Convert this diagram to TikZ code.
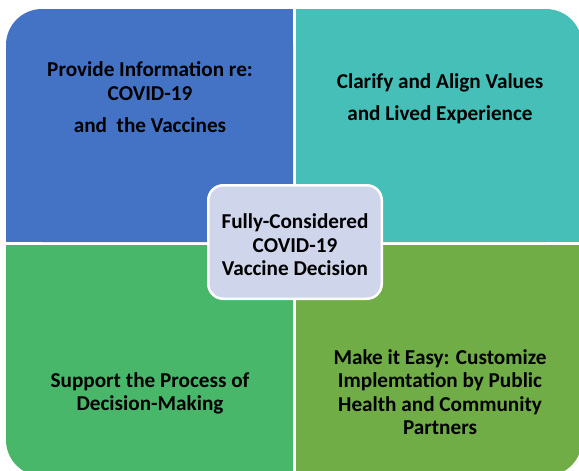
\documentclass[tikz,border=0pt]{standalone}
\usepackage{fontspec}
\setmainfont{Carlito}
\definecolor{qblue}{HTML}{4472C4}
\definecolor{qteal}{HTML}{45BFB7}
\definecolor{qgreen}{HTML}{48B76A}
\definecolor{qolive}{HTML}{70AD47}
\definecolor{qcenter}{HTML}{CFD5EA}
\begin{document}
\begin{tikzpicture}[x=1pt,y=-1pt,
  lbl/.style={align=center, font=\bfseries\fontsize{21.2}{23.5}\selectfont, text=black, inner sep=0pt},
  centerbox/.style={fill=qcenter, draw=white, line width=2.5pt, rounded corners=15pt,
    minimum width=173.5pt, minimum height=113.5pt, inner sep=0pt}]
\useasboundingbox (0,0) rectangle (579,471);
\clip (0,0) rectangle (579,471);
% top-left
\fill[qblue, rounded corners=36pt] (6,9) rectangle (293,242);
\fill[qblue] (50,9) rectangle (293,242);
\fill[qblue] (6,50) rectangle (293,242);
% top-right
\fill[qteal, rounded corners=36pt] (296,9) rectangle (582,242);
\fill[qteal] (296,9) rectangle (540,242);
\fill[qteal] (296,50) rectangle (582,242);
% bottom-left
\fill[qgreen, rounded corners=36pt] (6,245) rectangle (293,476);
\fill[qgreen] (50,245) rectangle (293,476);
\fill[qgreen] (6,245) rectangle (293,430);
% bottom-right
\fill[qolive, rounded corners=36pt] (296,245) rectangle (582,476);
\fill[qolive] (296,245) rectangle (540,476);
\fill[qolive] (296,245) rectangle (582,430);
% labels
\node[lbl] (tl) at (150,97.5) {Provide Information re:\\COVID-19\\[9pt]and\ \ the Vaccines};
\node[lbl] (tr) at (440,99) {Clarify and Align Values\\[8.5pt]and Lived Experience};
\node[lbl] (bl) at (150,393.5) {Support the Process of\\Decision-Making};
\node[lbl] (br) at (440,392) {Make it Easy: Customize\\Implemtation by Public\\Health and Community\\Partners};
\node[centerbox] (ctrbox) at (295,242) {};
\node[lbl] (ctr) at (295,245) {Fully-Considered\\COVID-19\\Vaccine Decision};
\end{tikzpicture}
\end{document}
